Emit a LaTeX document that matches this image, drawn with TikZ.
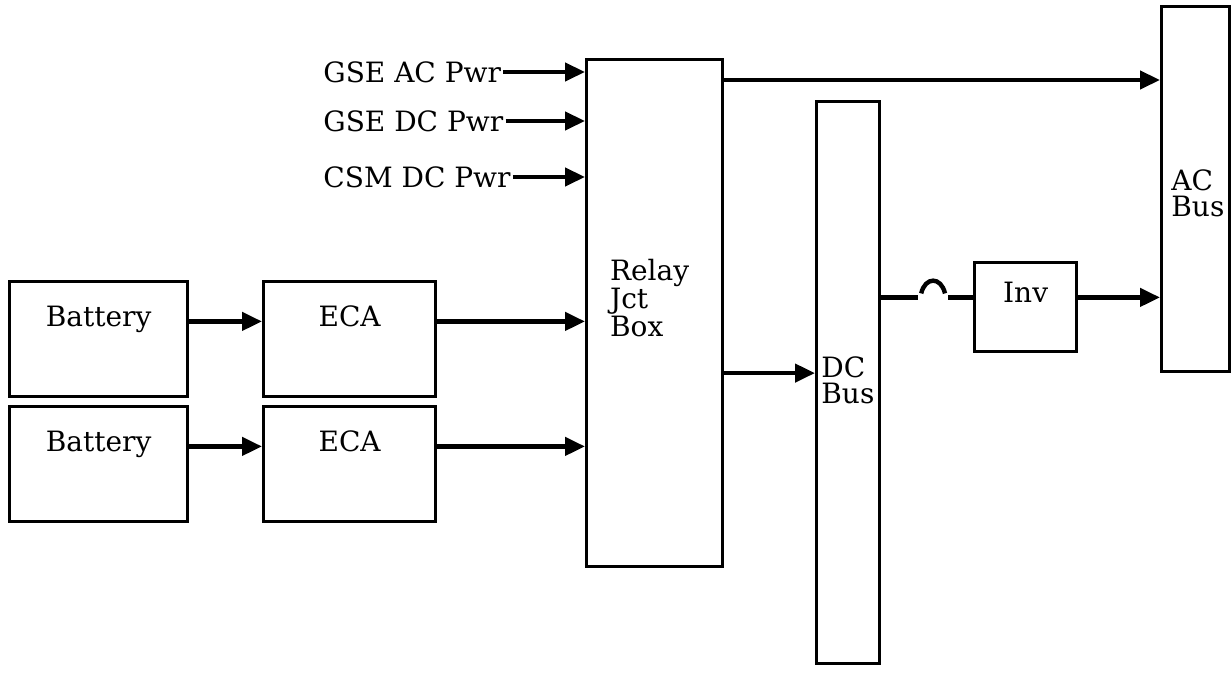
\documentclass[tikz,border=0pt]{standalone}
\usepackage{fontspec}
\setmainfont{DejaVu Serif}
\usetikzlibrary{arrows.meta, positioning}

\begin{document}
\begin{tikzpicture}[x=0.5pt, y=-0.5pt, >={Triangle[length=10pt, width=9pt]},
    font=\fontsize{14pt}{13pt}\selectfont,
    blk/.style={draw, line width=1.6pt, anchor=north west, inner xsep=0pt, inner ysep=0pt,
                text height=22.5pt, text depth=35pt},
    bus/.style={draw, line width=1.6pt, anchor=north west, inner sep=0pt},
    wire/.style={line width=2.2pt},
    feed/.style={wire, ->}]

    \useasboundingbox (0,0) rectangle (1231,694);

    % Batteries and ECAs
    \node[blk, minimum width=89pt] at (8,280) (bat1) {Battery};
    \node[blk, minimum width=89pt] at (8,405) (bat2) {Battery};
    \node[blk, minimum width=86pt] at (262,280) (eca1) {ECA};
    \node[blk, minimum width=86pt] at (262,405) (eca2) {ECA};

    % Relay junction box
    \node[bus, minimum width=68pt, minimum height=253.5pt] at (585,58) (relay) {};
    \node[anchor=west, align=left] at (603,298) (relaytxt) {Relay\\Jct\\Box};

    % Buses
    \node[bus, minimum width=31.5pt, minimum height=281pt] at (815,100) (dcbus) {};
    \node[anchor=west, align=left, inner sep=1pt] at (819,380) (dctxt) {DC\\Bus};
    \node[bus, minimum width=34pt, minimum height=182.5pt] at (1160,5) (acbus) {};
    \node[anchor=west, align=left, inner sep=1pt] at (1169,193) (actxt) {AC\\Bus};

    % Inverter
    \node[blk, minimum width=51pt, text height=20pt, text depth=24.5pt] at (973,261) (inv) {Inv};

    % Outside power inputs
    \node[anchor=west, inner sep=1pt] at (321,72) (gseac) {GSE AC Pwr};
    \node[anchor=west, inner sep=1pt] at (321,121) (gsedc) {GSE DC Pwr};
    \node[anchor=west, inner sep=1pt] at (321,177) (csmdc) {CSM DC Pwr};
    \foreach \src in {gseac, gsedc, csmdc}
        \draw[feed] (\src.east) -- (\src.east -| relay.west);

    % Battery -> ECA -> relay
    \foreach \i in {1,2} {
        \draw[feed] (bat\i.mid east) -- (eca\i.mid west);
        \draw[feed] (eca\i.mid east) -- (eca\i.mid east -| relay.west);
    }

    % Relay -> buses
    \draw[feed] ([yshift=-11pt]relay.north east) -- ([yshift=-11pt]relay.north east -| acbus.west);
    \draw[feed] ([yshift=-30pt]relay.east) -- ([yshift=-30pt]relay.east -| dcbus.west);

    % DC bus -> inverter (hop over) -> AC bus
    \draw[wire] (dcbus.east |- inv.mid west) -- ++(37,0) coordinate (hopl);
    \draw[wire] (inv.mid west) -- ++(-25,0) coordinate (hopr);
    \draw[wire] ([shift={(3,-4)}]hopl) .. controls +(4,-17) and +(-4,-17) .. ([shift={(-3,-4)}]hopr);
    \draw[feed] (inv.mid east) -- (inv.mid east -| acbus.west);

\end{tikzpicture}
\end{document}
